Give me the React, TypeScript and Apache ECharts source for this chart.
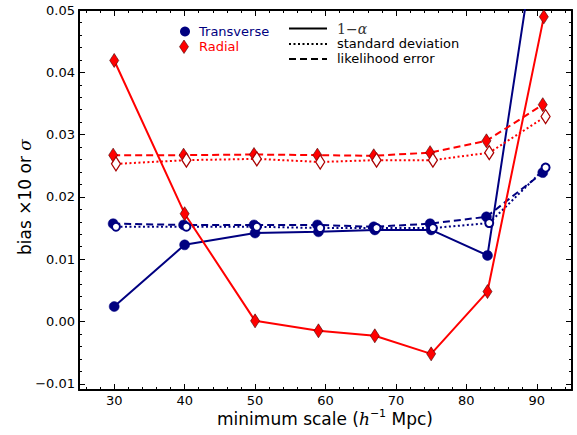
import React, { useEffect, useRef } from 'react';
import * as echarts from 'echarts';

// Data
const scales = [30, 40, 50, 59, 67, 75, 83, 91];
const likOffset = -0.15;
const stdOffset = 0.25;
const transverseAlpha = [0.0024, 0.0123, 0.0142, 0.0144, 0.0147, 0.0147, 0.0106, 0.070];
const transverseLik = [0.0157, 0.0155, 0.0155, 0.0155, 0.0152, 0.0157, 0.0168, 0.0239];
const transverseStd = [0.0152, 0.0152, 0.0152, 0.0150, 0.0150, 0.0150, 0.0158, 0.0247];
const radialAlpha = [0.0419, 0.0173, 0.0001, -0.0015, -0.0023, -0.0052, 0.0048, 0.0489];
const radialLik = [0.0267, 0.0267, 0.0268, 0.0267, 0.0266, 0.0271, 0.0290, 0.0348];
const radialStd = [0.0253, 0.0259, 0.0261, 0.0256, 0.0259, 0.0259, 0.0271, 0.0329];

const xTicks = [30, 40, 50, 60, 70, 80, 90];
const xMinorTicks = [26, 28, 30, 32, 34, 36, 38, 40, 42, 44, 46, 48, 50, 52, 54, 56, 58, 60, 62, 64, 66, 68, 70, 72, 74, 76, 78, 80, 82, 84, 86, 88, 90, 92, 94];
const yTicks = [-0.01, 0, 0.01, 0.02, 0.03, 0.04, 0.05];
const yMinorTicks = [-0.01, -0.008, -0.006, -0.004, -0.002, 0, 0.002, 0.004, 0.006, 0.008, 0.01, 0.012, 0.014, 0.016, 0.018, 0.02, 0.022, 0.024, 0.026, 0.028, 0.03, 0.032, 0.034, 0.036, 0.038, 0.04, 0.042, 0.044, 0.046, 0.048, 0.05];

const NAVY = '#000080';
const RED = '#ff0000';
const FONT = 'DejaVu Sans';

const pairs = (xs: number[], ys: number[], off: number) => xs.map((x, i) => [x + off, ys[i]]);

function makeAxis(kind: 'x' | 'y', position: string, ticks: number[], len: number, labels: boolean, line: boolean): any {
  const ax: any = {
    type: 'value',
    position,
    min: kind === 'x' ? 25 : -0.011,
    max: kind === 'x' ? 95 : 0.05,
    splitLine: { show: false },
    axisLine: { show: line, onZero: false, lineStyle: { color: '#000', width: 2 } },
    axisTick: { show: true, inside: true, length: len, customValues: ticks, lineStyle: { color: '#000', width: 1 } },
    axisLabel: labels
      ? {
          show: true,
          customValues: ticks,
          color: '#000',
          fontSize: 13,
          fontFamily: FONT,
          margin: 4,
          formatter: kind === 'x' ? (v: number) => String(Math.round(v)) : (v: number) => (v < -1e-9 ? '\u2212' : '') + Math.abs(v).toFixed(2),
        }
      : { show: false },
  };
  return ax;
}

export default function App() {
  const ref = useRef<HTMLDivElement>(null);
  useEffect(() => {
    document.body.style.margin = '0';
    if (!ref.current) return;
    const chart = echarts.init(ref.current, null, { renderer: 'svg' });

    const lineSeries = (name: string, data: number[][], color: string, type: any, symbol: string, size: any, itemStyle: any) => ({
      name,
      type: 'line',
      data,
      xAxisIndex: 0,
      yAxisIndex: 0,
      clip: true,
      symbol,
      symbolSize: size,
      showAllSymbol: true,
      lineStyle: { color, width: 2, type },
      itemStyle,
    });

    const option: any = {
      animation: false,
      grid: { left: 79, top: 10, width: 493, height: 380, containLabel: false, outerBoundsMode: 'none' },
      xAxis: [
        makeAxis('x', 'bottom', xTicks, 6, true, true),
        makeAxis('x', 'top', xTicks, 6, false, true),
        makeAxis('x', 'bottom', xMinorTicks, 3, false, false),
        makeAxis('x', 'top', xMinorTicks, 3, false, false),
      ],
      yAxis: [
        makeAxis('y', 'left', yTicks, 6, true, true),
        makeAxis('y', 'right', yTicks, 6, false, true),
        makeAxis('y', 'left', yMinorTicks, 3, false, false),
        makeAxis('y', 'right', yMinorTicks, 3, false, false),
      ],
      series: [
        lineSeries('Transverse 1-alpha', pairs(scales, transverseAlpha, 0), NAVY, 'solid', 'circle', 10, { color: NAVY, borderColor: NAVY, borderWidth: 0.5 }),
        lineSeries('Transverse likelihood', pairs(scales, transverseLik, likOffset), NAVY, [7, 4], 'circle', 10, { color: NAVY, borderColor: NAVY, borderWidth: 0.5 }),
        lineSeries('Transverse std', pairs(scales, transverseStd, stdOffset), NAVY, [2, 2.5], 'circle', 8, { color: '#fff', borderColor: NAVY, borderWidth: 2 }),
        lineSeries('Radial 1-alpha', pairs(scales, radialAlpha, 0), RED, 'solid', 'diamond', [9, 14], { color: RED, borderColor: '#400', borderWidth: 0.6 }),
        lineSeries('Radial likelihood', pairs(scales, radialLik, likOffset), RED, [7, 4], 'diamond', [9, 14], { color: RED, borderColor: '#400', borderWidth: 0.6 }),
        lineSeries('Radial std', pairs(scales, radialStd, stdOffset), RED, [2, 2.5], 'diamond', [9, 14], { color: '#fff', borderColor: '#a00', borderWidth: 1.3 }),
      ],
      graphic: [
        { type: 'circle', shape: { cx: 185, cy: 31.5, r: 5 }, style: { fill: NAVY } },
        { type: 'polygon', shape: { points: [[184, 40], [188.5, 46.7], [184, 53.5], [179.5, 46.7]] }, style: { fill: RED, stroke: '#400', lineWidth: 0.6 } },
        { type: 'text', x: 199, y: 31.5, style: { text: 'Transverse', fill: NAVY, fontSize: 13, fontFamily: FONT, verticalAlign: 'middle', textVerticalAlign: 'middle' } },
        { type: 'text', x: 199, y: 46.5, style: { text: 'Radial', fill: RED, fontSize: 13, fontFamily: FONT, verticalAlign: 'middle', textVerticalAlign: 'middle' } },
        { type: 'line', shape: { x1: 289, y1: 28.5, x2: 327, y2: 28.5 }, style: { stroke: '#000', lineWidth: 2 } },
        { type: 'line', shape: { x1: 289, y1: 44, x2: 327, y2: 44 }, style: { stroke: '#000', lineWidth: 2, lineDash: [2, 2.5] } },
        { type: 'line', shape: { x1: 289, y1: 59, x2: 327, y2: 59 }, style: { stroke: '#000', lineWidth: 2, lineDash: [7, 4] } },
        {
          type: 'text', x: 337, y: 28.5,
          style: {
            text: '{n|1\u2212}{g|\u03b1}',
            verticalAlign: 'middle', textVerticalAlign: 'middle',
            rich: {
              n: { fontSize: 14, fontFamily: 'DejaVu Serif', fill: '#333' },
              g: { fontSize: 14, fontFamily: 'DejaVu Serif', fontStyle: 'italic', fill: '#333' },
            },
          },
        },
        { type: 'text', x: 337, y: 43.5, style: { text: 'standard deviation', fill: '#000', fontSize: 13, fontFamily: FONT, verticalAlign: 'middle', textVerticalAlign: 'middle' } },
        { type: 'text', x: 337, y: 58.5, style: { text: 'likelihood error', fill: '#000', fontSize: 13, fontFamily: FONT, verticalAlign: 'middle', textVerticalAlign: 'middle' } },
        {
          type: 'text', x: 325, y: 419,
          style: {
            text: '{a|minimum scale (}{h|h}{s|\u22121}{a| Mpc)}',
            align: 'center', verticalAlign: 'middle', textAlign: 'center', textVerticalAlign: 'middle',
            rich: {
              a: { fontSize: 17, fontFamily: FONT, fill: '#000', lineHeight: 22, verticalAlign: 'middle' },
              h: { fontSize: 17, fontFamily: 'DejaVu Serif', fontStyle: 'italic', fill: '#000', lineHeight: 22, verticalAlign: 'middle' },
              s: { fontSize: 11, fontFamily: FONT, fill: '#000', lineHeight: 12, verticalAlign: 'top' },
            },
          },
        },
        {
          type: 'text', x: 25, y: 197, rotation: Math.PI / 2,
          style: {
            text: '{a|bias }{a|\u00d710 or }{s|\u03c3}',
            align: 'center', verticalAlign: 'middle', textAlign: 'center', textVerticalAlign: 'middle',
            rich: {
              a: { fontSize: 17, fontFamily: FONT, fill: '#000', lineHeight: 22 },
              s: { fontSize: 17, fontFamily: 'DejaVu Serif', fontStyle: 'italic', fill: '#000', lineHeight: 22 },
            },
          },
        },
      ],
    };
    chart.setOption(option);
    return () => chart.dispose();
  }, []);
  return <div ref={ref} style={{ width: 577, height: 435 }} />;
}
